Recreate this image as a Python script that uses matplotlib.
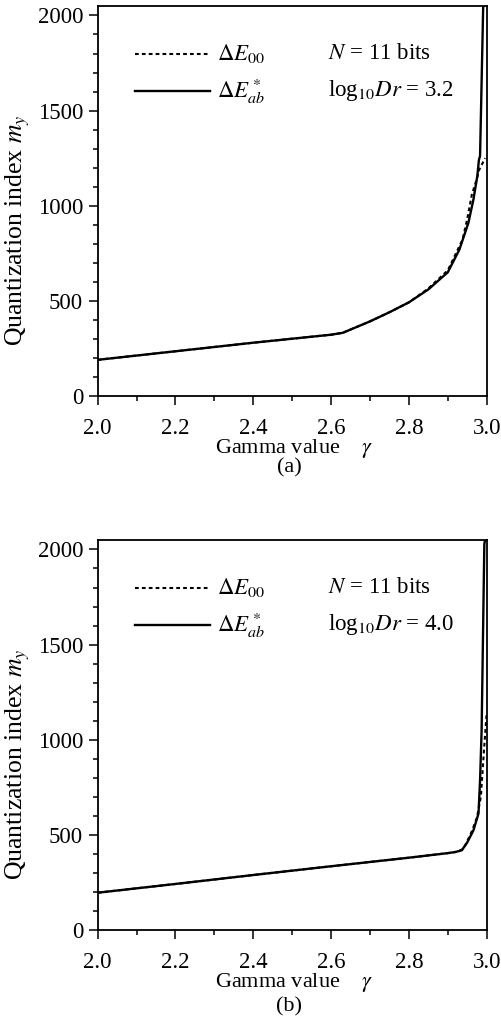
import matplotlib
matplotlib.use("Agg")
import matplotlib.pyplot as plt
from matplotlib.ticker import MultipleLocator

plt.rcParams['font.family'] = ['Liberation Serif', 'DejaVu Serif']
plt.rcParams['mathtext.fontset'] = 'stix'

# panel (a): log10 Dr = 3.2
gamma_a_ab = [2.0, 2.2, 2.4, 2.6, 2.63, 2.7, 2.75, 2.8, 2.85, 2.9, 2.93, 2.953, 2.966, 2.976, 2.98, 2.983, 2.991, 3.0]
my_a_ab = [190, 235, 280, 322, 332, 392, 440, 492, 560, 650, 770, 910, 1033, 1156, 1240, 1262, 2043, 2100]
gamma_a_00 = [2.0, 2.2, 2.4, 2.6, 2.63, 2.7, 2.75, 2.8, 2.85, 2.9, 2.938, 2.95, 2.962, 2.97, 2.981, 2.996]
my_a_00 = [190, 235, 280, 322, 332, 392, 440, 492, 565, 660, 822, 930, 1060, 1110, 1190, 1250]

# panel (b): log10 Dr = 4.0
gamma_b_ab = [2.0, 2.2, 2.4, 2.6, 2.8, 2.9, 2.92, 2.936, 2.95, 2.966, 2.979, 2.983, 2.987, 2.994, 3.0]
my_b_ab = [196, 242, 289, 335, 380, 404, 410, 419, 460, 524, 612, 786, 1048, 2028, 2100]
gamma_b_00 = [2.0, 2.2, 2.4, 2.6, 2.8, 2.9, 2.92, 2.94, 2.96, 2.975, 2.985, 2.99, 2.995, 3.0]
my_b_00 = [196, 242, 289, 335, 380, 404, 410, 425, 510, 590, 700, 850, 1000, 1140]

panels = [
    (gamma_a_ab, my_a_ab, gamma_a_00, my_a_00, "3.2", "(a)"),
    (gamma_b_ab, my_b_ab, gamma_b_00, my_b_00, "4.0", "(b)"),
]

fig = plt.figure(figsize=(5.01, 10.24), dpi=100)
axes_rects = [[0.195, 0.6133, 0.7764, 0.3809], [0.195, 0.0918, 0.7764, 0.3809]]
caption_y = [0.543, 0.0166]

for i, (gx, gy, dx, dy, dr, cap) in enumerate(panels):
    ax = fig.add_axes(axes_rects[i])
    ax.plot(dx, dy, color='black', lw=1.5, ls=(0, (1.8, 1.5)))
    ax.plot(gx, gy, color='black', lw=1.7)
    ax.set_xlim(2.0, 3.0)
    ax.set_ylim(0, 2050)
    ax.set_xticks([2.0, 2.2, 2.4, 2.6, 2.8, 3.0])
    ax.set_yticks([0, 500, 1000, 1500, 2000])
    ax.xaxis.set_minor_locator(MultipleLocator(0.1))
    ax.yaxis.set_minor_locator(MultipleLocator(100))
    ax.tick_params(which='major', direction='out', length=6.5, width=1.1, labelsize=16.5, pad=4)
    ax.tick_params(which='minor', direction='out', length=3.4, width=1.1)
    ax.tick_params(axis='x', which='major', pad=9)
    for s in ax.spines.values():
        s.set_linewidth(1.3)
    ax.set_xlabel(r"Gamma value    $\gamma$", fontsize=16)
    ax.xaxis.set_label_coords(0.506, -0.104)
    ax.set_ylabel(r"Quantization index $m_y$", fontsize=18.5)
    ax.yaxis.set_label_coords(-0.168, 0.425)

    # legend drawn by hand
    ax.plot([0.096, 0.289], [0.877, 0.877], transform=ax.transAxes, color='black', lw=1.5, ls=(0, (1.8, 1.5)))
    ax.plot([0.096, 0.289], [0.782, 0.782], transform=ax.transAxes, color='black', lw=1.7)
    ax.text(0.307, 0.877, r"$\Delta E_{00}$", transform=ax.transAxes, fontsize=16.5, va='center')
    ax.text(0.307, 0.782, r"$\Delta E^*_{ab}$", transform=ax.transAxes, fontsize=16.5, va='center')
    ax.text(0.592, 0.877, r"$N$ = 11 bits", transform=ax.transAxes, fontsize=16.5, va='center')
    ax.text(0.592, 0.782, r"log$_{10}$$Dr$ = " + dr, transform=ax.transAxes, fontsize=16.5, va='center')

    fig.text(0.577, caption_y[i], cap, fontsize=16, ha='center', va='center')

fig.savefig("out.png", dpi=100)
